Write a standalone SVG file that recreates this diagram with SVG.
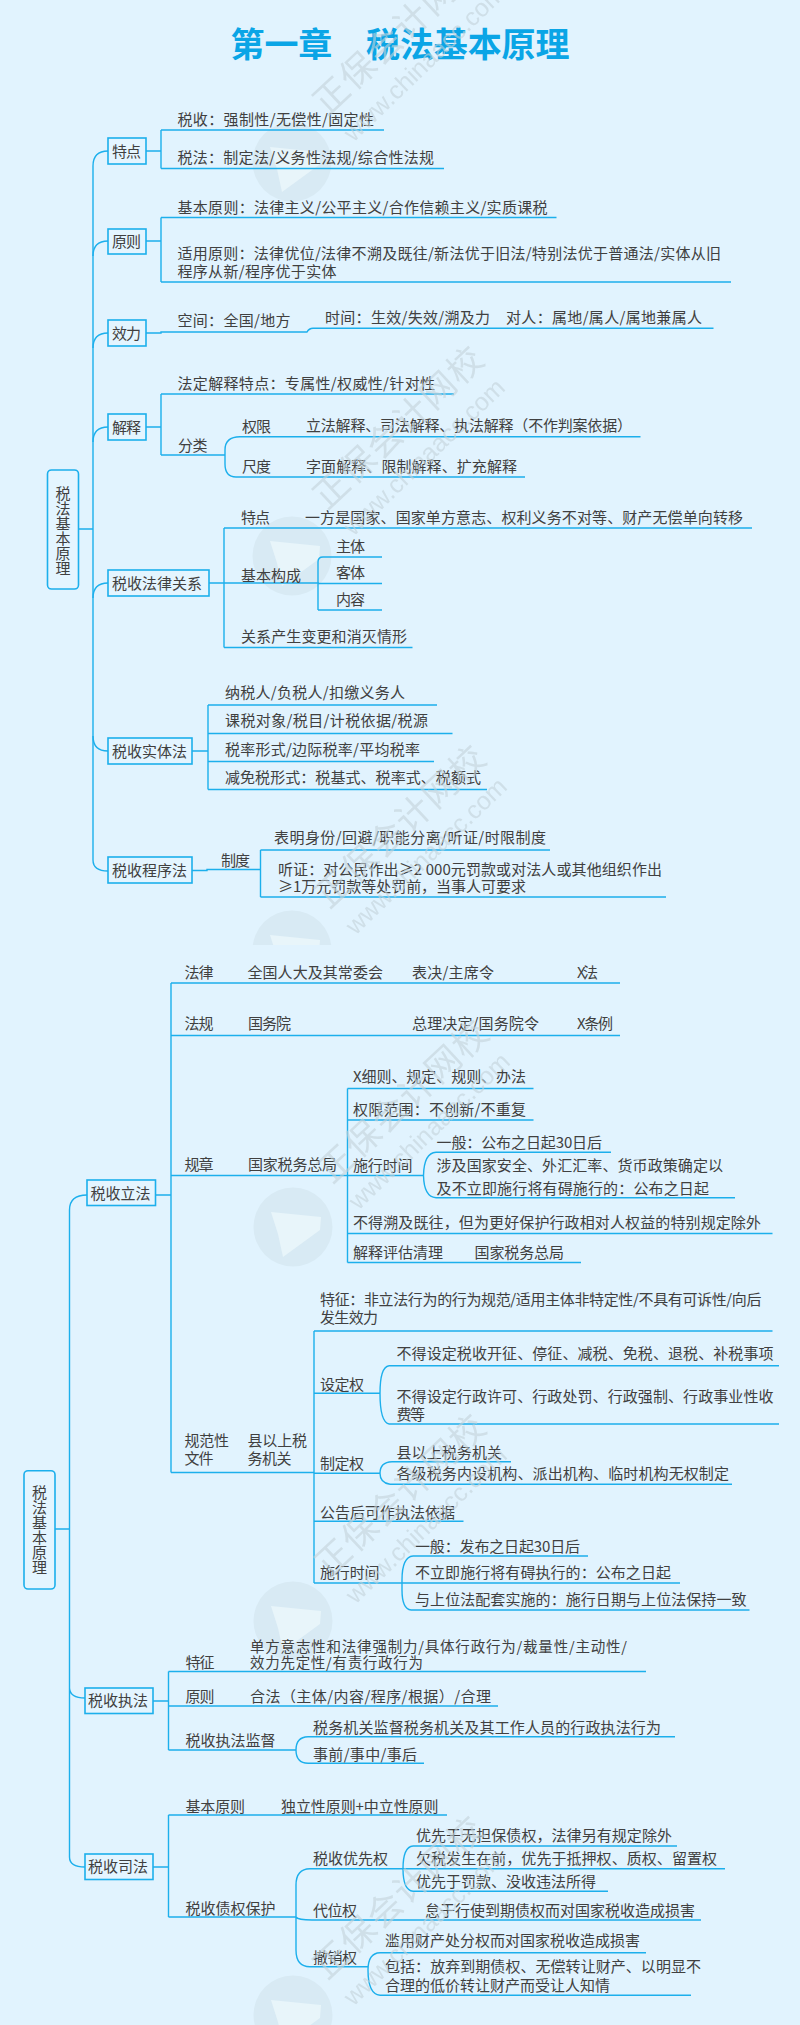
<svg xmlns="http://www.w3.org/2000/svg" xmlns:xlink="http://www.w3.org/1999/xlink" width="800" height="2025" viewBox="0 0 800 2025">
<style>
text{font-family:"Noto Sans CJK SC","Liberation Sans",sans-serif}
.t{font-size:15px;fill:#404040}
.s{font-size:14.5px;fill:#404040}
.title{font-size:34px;font-weight:700;fill:#0aa5e6}
.box{fill:#e4f5ff;stroke:#1cafec;stroke-width:1.6}
.c path{fill:none;stroke:#1cafec;stroke-width:1.4}
.wm{font-size:35px;letter-spacing:1.5px;fill:#c3d2d9;text-anchor:middle}
.wu{font-size:25px;font-family:"Liberation Sans",sans-serif;fill:#c3d2d9;text-anchor:middle}
.v{writing-mode:vertical-rl;letter-spacing:0}
</style>
<defs>
<clipPath id="clipA"><rect x="0" y="0" width="800" height="945"/></clipPath>
<clipPath id="clipB"><rect x="0" y="945" width="800" height="1080"/></clipPath>
<g id="logo"><circle r="39.5" fill="#d8eaf4"/><path d="M-22-15L28-10 27 3-10 30-15 7Z" fill="#e8f5fa"/></g>
<g id="mark"><text class="wm" transform="rotate(-43)">正保会计网校</text><text class="wu" transform="translate(23 27) rotate(-44)">www.chinaacc.com</text></g>
</defs>
<rect width="800" height="2025" fill="#e1f3fe"/>
<g id="logos">
<g clip-path="url(#clipA)"><use xlink:href="#logo" x="292" y="162"/><use xlink:href="#logo" x="292" y="556"/><use xlink:href="#logo" x="292" y="950"/></g>
<g clip-path="url(#clipB)"><use xlink:href="#logo" x="293" y="1227"/><use xlink:href="#logo" x="293" y="1621"/><use xlink:href="#logo" x="293" y="2015"/></g>
</g>
<g id="connectors" class="c">
<path d="M78 529H93M108 151Q93 151 93 166V860Q93 871 108 871"/>
<path d="M108 241Q93 241 93 256M108 333Q93 333 93 348M108 427Q93 427 93 442M108 583Q93 583 93 598M93 736Q93 751 108 751"/>
<path d="M146 151H161M161 130V168.5M161 130H384M161 168.5H444"/>
<path d="M146 241H161M161 217.5V282M161 217.5H556.5M161 282H731"/>
<path d="M146 333H161V332H307Q309 328.5 313 328.3H713.5"/>
<path d="M146 427H161M161 394V455M161 394H454M161 455H224.5M240 436.7H640.5M236 477H525M240 436.7Q225 436.7 225 450V464Q225 477 236 477"/>
<path d="M209 583H319M224 528V647.5M224 528H752M224 647.5H412.5M323 557H382M318 583.5H382M318 610H382M323 557Q318 557 318 562V610"/>
<path d="M192 751H208M208 705V789.5M208 705H437M208 733.5H452.5M208 761.5H434M208 789.5H487"/>
<path d="M192 870.5H207V869.5H260.5M260.5 850V897M260.5 850H550M260.5 897H666"/>
<path d="M55 1529H69.5M87 1195Q69.5 1195 69.5 1210V1857Q69.5 1867 85 1867M69.5 1688Q70 1698 85 1698"/>
<path d="M155.5 1195H171M171 983V1472.5M171 983H620M171 1035.5H620M171 1175.5H423M171 1472.5H314"/>
<path d="M347.5 1088.5V1262.5M347.5 1088.5H533.5M347.5 1120H533.5M347.5 1233.5H772.5M347.5 1262.5H581"/>
<path d="M436 1152.3H611M436 1197.7H735M436 1152.3Q424 1153 423.5 1175.5Q424 1197 436 1197.7"/>
<path d="M314 1331V1583M314 1331H772.5M314 1393.3H380M314 1473.3H380M314 1521.3H463.5M314 1583H401"/>
<path d="M389 1365.7H779M389 1424H779M389 1365.7Q380 1367 380 1393.3Q380 1422 389 1424"/>
<path d="M392 1461.7H511M390 1484.3H732M392 1461.7Q380 1462 380 1473.3Q380 1483 390 1484.3"/>
<path d="M413 1556H588M401 1583H680M411 1610H749.5M413 1556Q402 1557 402 1580V1590Q402 1609 411 1610"/>
<path d="M153 1701H168.5M168.5 1671.5V1750M168.5 1671.5H646M168.5 1706H498M168.5 1750H296M308 1736.7H675M308 1763.3H424M308 1736.7Q296 1737 296 1750Q296 1763 308 1763.3"/>
<path d="M153 1867H168.5M168.5 1815V1917M168.5 1815H447M168.5 1917H296M310 1868.7H725M296 1917Q298 1920 312 1920H701M310 1868.7Q296 1869 296 1885V1950Q296 1966.7 310 1966.7H368"/>
<path d="M413 1846H677M413 1891.3H608M413 1846Q403 1847 403 1868.7Q403 1890 413 1891.3"/>
<path d="M380 1952.7H646M380 1995.3H691M380 1952.7Q368 1953 368 1970Q368 1994 380 1995.3"/>
</g>
<g id="title"><text class="title" x="230.5" y="56.5" textLength="339">第一章　税法基本原理</text></g>
<g id="root1"><rect class="box" x="47.5" y="470" width="31" height="119" rx="4"/><text class="t v" x="63" y="486" textLength="90">税法基本原理</text></g>
<g id="n1"><rect class="box" x="108" y="138" width="38" height="26"/><text class="t" x="112" y="156.5" textLength="29">特点</text></g>
<g id="n2"><rect class="box" x="108" y="229" width="38" height="25"/><text class="t" x="112" y="246.5" textLength="29">原则</text></g>
<g id="n3"><rect class="box" x="108" y="320" width="38" height="26"/><text class="t" x="112" y="338.5" textLength="29">效力</text></g>
<g id="n4"><rect class="box" x="108" y="414" width="38" height="26"/><text class="t" x="112" y="432.5" textLength="29">解释</text></g>
<g id="n5"><rect class="box" x="108" y="570" width="101" height="26"/><text class="t" x="112" y="588.5" textLength="90">税收法律关系</text></g>
<g id="n6"><rect class="box" x="108" y="738" width="84" height="26"/><text class="t" x="112" y="756.5" textLength="75">税收实体法</text></g>
<g id="n7"><rect class="box" x="108" y="857" width="84" height="26"/><text class="t" x="112" y="875.5" textLength="75">税收程序法</text></g>
<g id="l1"><text class="t" x="177.5" y="124.5" textLength="196.5">税收：强制性/无偿性/固定性</text></g>
<g id="l2"><text class="t" x="177.5" y="162.5" textLength="256.5">税法：制定法/义务性法规/综合性法规</text></g>
<g id="l3"><text class="t" x="177.5" y="212.5" textLength="370">基本原则：法律主义/公平主义/合作信赖主义/实质课税</text></g>
<g id="l4"><text class="t" x="177.5" y="258.5" textLength="543.5">适用原则：法律优位/法律不溯及既往/新法优于旧法/特别法优于普通法/实体从旧</text><text class="t" x="177.5" y="276.5" textLength="159">程序从新/程序优于实体</text></g>
<g id="l5"><text class="t" x="177.5" y="326" textLength="113">空间：全国/地方</text></g>
<g id="l6"><text class="t" x="325" y="323" textLength="165">时间：生效/失效/溯及力</text></g>
<g id="l7"><text class="t" x="506" y="323" textLength="196">对人：属地/属人/属地兼属人</text></g>
<g id="l8"><text class="t" x="177.5" y="388.5" textLength="257.5">法定解释特点：专属性/权威性/针对性</text></g>
<g id="l9"><text class="t" x="178" y="450.5" textLength="29.5">分类</text></g>
<g id="l10"><text class="t" x="242" y="431.5" textLength="29">权限</text></g>
<g id="l11"><text class="t" x="306" y="430.5" textLength="326">立法解释、司法解释、执法解释（不作判案依据）</text></g>
<g id="l12"><text class="t" x="242" y="471.5" textLength="29">尺度</text></g>
<g id="l13"><text class="t" x="306" y="471.5" textLength="211">字面解释、限制解释、扩充解释</text></g>
<g id="l14"><text class="t" x="241" y="522.5" textLength="29">特点</text></g>
<g id="l15"><text class="t" x="305" y="522.5" textLength="438">一方是国家、国家单方意志、权利义务不对等、财产无偿单向转移</text></g>
<g id="l16"><text class="t" x="241" y="580.5" textLength="60">基本构成</text></g>
<g id="l17"><text class="t" x="336" y="551.5" textLength="29">主体</text></g>
<g id="l18"><text class="t" x="336" y="578.2" textLength="29">客体</text></g>
<g id="l19"><text class="t" x="336" y="604.5" textLength="29">内容</text></g>
<g id="l20"><text class="t" x="241" y="642.2" textLength="166">关系产生变更和消灭情形</text></g>
<g id="l21"><text class="t" x="225" y="697.5" textLength="180">纳税人/负税人/扣缴义务人</text></g>
<g id="l22"><text class="t" x="225" y="726.2" textLength="203">课税对象/税目/计税依据/税源</text></g>
<g id="l23"><text class="t" x="225" y="754.5" textLength="195">税率形式/边际税率/平均税率</text></g>
<g id="l24"><text class="t" x="225" y="782.5" textLength="256">减免税形式：税基式、税率式、税额式</text></g>
<g id="l25"><text class="t" x="221" y="865.5" textLength="29">制度</text></g>
<g id="l26"><text class="t" x="274" y="842.5" textLength="272">表明身份/回避/职能分离/听证/时限制度</text></g>
<g id="l27"><text class="t" x="278" y="874.5" textLength="384">听证：对公民作出≥2 000元罚款或对法人或其他组织作出</text><text class="t" x="278" y="892.2" textLength="248">≥1万元罚款等处罚前，当事人可要求</text></g>
<g id="root2"><rect class="box" x="24" y="1470.7" width="31" height="118.3" rx="4"/><text class="t v" x="39.5" y="1485.2" textLength="90">税法基本原理</text></g>
<g id="m1"><rect class="box" x="87" y="1180" width="68.5" height="25.5"/><text class="t" x="90.5" y="1198.5" textLength="60">税收立法</text></g>
<g id="m2"><rect class="box" x="85" y="1688" width="68" height="25.5"/><text class="t" x="88" y="1706.2" textLength="60">税收执法</text></g>
<g id="m3"><rect class="box" x="85" y="1854" width="68" height="25.5"/><text class="t" x="88" y="1872.2" textLength="60">税收司法</text></g>
<g id="p1"><text class="t" x="184.5" y="978.2" textLength="29">法律</text></g>
<g id="p2"><text class="t" x="247.5" y="978.2" textLength="135.5">全国人大及其常委会</text></g>
<g id="p3"><text class="t" x="412" y="978.2" textLength="82">表决/主席令</text></g>
<g id="p4"><text class="t" x="577" y="978.2" textLength="21">X法</text></g>
<g id="p5"><text class="t" x="184.5" y="1028.8" textLength="29">法规</text></g>
<g id="p6"><text class="t" x="248" y="1028.8" textLength="43">国务院</text></g>
<g id="p7"><text class="t" x="412" y="1028.8" textLength="127">总理决定/国务院令</text></g>
<g id="p8"><text class="t" x="577" y="1028.8" textLength="36">X条例</text></g>
<g id="p9"><text class="t" x="184.5" y="1169.8" textLength="29">规章</text></g>
<g id="p10"><text class="t" x="248" y="1169.8" textLength="89">国家税务总局</text></g>
<g id="p11"><text class="t" x="353" y="1082.2" textLength="173">X细则、规定、规则、办法</text></g>
<g id="p12"><text class="t" x="353" y="1114.5" textLength="173">权限范围：不创新/不重复</text></g>
<g id="p13"><text class="t" x="353" y="1171.2" textLength="59.5">施行时间</text></g>
<g id="p14"><text class="t" x="436.5" y="1147.5" textLength="165.5">一般：公布之日起30日后</text></g>
<g id="p15"><text class="t" x="436.5" y="1170.8" textLength="286.5">涉及国家安全、外汇汇率、货币政策确定以</text><text class="t" x="436.5" y="1193.5" textLength="272.5">及不立即施行将有碍施行的：公布之日起</text></g>
<g id="p16"><text class="t" x="353" y="1228.2" textLength="408">不得溯及既往，但为更好保护行政相对人权益的特别规定除外</text></g>
<g id="p17"><text class="t" x="353" y="1258.2" textLength="90">解释评估清理</text></g>
<g id="p18"><text class="t" x="474.5" y="1258.2" textLength="89.5">国家税务总局</text></g>
<g id="p19"><text class="t" x="184.5" y="1445.5" textLength="44.5">规范性</text><text class="t" x="184.5" y="1463.5" textLength="29">文件</text></g>
<g id="p20"><text class="t" x="247.5" y="1445.5" textLength="59.5">县以上税</text><text class="t" x="247.5" y="1463.5" textLength="44">务机关</text></g>
<g id="p21"><text class="t" x="320" y="1304.5" textLength="441.5">特征：非立法行为的行为规范/适用主体非特定性/不具有可诉性/向后</text><text class="t" x="320" y="1322.5" textLength="58">发生效力</text></g>
<g id="p22"><text class="t" x="320" y="1389.8" textLength="44">设定权</text></g>
<g id="p23"><text class="t" x="396.5" y="1358.8" textLength="377">不得设定税收开征、停征、减税、免税、退税、补税事项</text></g>
<g id="p24"><text class="t" x="396.5" y="1401.5" textLength="377">不得设定行政许可、行政处罚、行政强制、行政事业性收</text><text class="t" x="396.5" y="1419.5" textLength="28.5">费等</text></g>
<g id="p25"><text class="t" x="320" y="1468.8" textLength="44">制定权</text></g>
<g id="p26"><text class="t" x="396.5" y="1457.5" textLength="105.5">县以上税务机关</text></g>
<g id="p27"><text class="t" x="396.5" y="1479.2" textLength="332.5">各级税务内设机构、派出机构、临时机构无权制定</text></g>
<g id="p28"><text class="t" x="320" y="1518.2" textLength="135">公告后可作执法依据</text></g>
<g id="p29"><text class="t" x="320" y="1578.2" textLength="59.5">施行时间</text></g>
<g id="p30"><text class="t" x="415" y="1551.5" textLength="165">一般：发布之日起30日后</text></g>
<g id="p31"><text class="t" x="415" y="1577.8" textLength="256">不立即施行将有碍执行的：公布之日起</text></g>
<g id="p32"><text class="t" x="415" y="1604.5" textLength="331.5">与上位法配套实施的：施行日期与上位法保持一致</text></g>
<g id="q1"><text class="t" x="185.5" y="1668.2" textLength="29">特征</text></g>
<g id="q2"><text class="s" x="250" y="1652" textLength="377">单方意志性和法律强制力/具体行政行为/裁量性/主动性/</text><text class="s" x="250" y="1667.5" textLength="173">效力先定性/有责行政行为</text></g>
<g id="q3"><text class="t" x="185.5" y="1702.2" textLength="29">原则</text></g>
<g id="q4"><text class="t" x="250" y="1701.5" textLength="241">合法（主体/内容/程序/根据）/合理</text></g>
<g id="q5"><text class="t" x="185.5" y="1746.2" textLength="90">税收执法监督</text></g>
<g id="q6"><text class="t" x="313" y="1732.5" textLength="348">税务机关监督税务机关及其工作人员的行政执法行为</text></g>
<g id="q7"><text class="t" x="313" y="1759.8" textLength="104">事前/事中/事后</text></g>
<g id="q8"><text class="t" x="185.5" y="1811.5" textLength="59.5">基本原则</text></g>
<g id="q9"><text class="t" x="281" y="1811.5" textLength="157.5">独立性原则+中立性原则</text></g>
<g id="q10"><text class="t" x="185.5" y="1913.8" textLength="90">税收债权保护</text></g>
<g id="q11"><text class="t" x="313" y="1863.5" textLength="75">税收优先权</text></g>
<g id="q12"><text class="t" x="416" y="1841.2" textLength="256">优先于无担保债权，法律另有规定除外</text></g>
<g id="q13"><text class="t" x="416" y="1863.8" textLength="301">欠税发生在前，优先于抵押权、质权、留置权</text></g>
<g id="q14"><text class="t" x="416" y="1886.5" textLength="180">优先于罚款、没收违法所得</text></g>
<g id="q15"><text class="t" x="313" y="1916.2" textLength="44">代位权</text></g>
<g id="q16"><text class="t" x="425" y="1916.2" textLength="270">怠于行使到期债权而对国家税收造成损害</text></g>
<g id="q17"><text class="t" x="313" y="1963.2" textLength="44">撤销权</text></g>
<g id="q18"><text class="t" x="385" y="1946.2" textLength="255">滥用财产处分权而对国家税收造成损害</text></g>
<g id="q19"><text class="t" x="385" y="1972.2" textLength="316">包括：放弃到期债权、无偿转让财产、以明显不</text><text class="t" x="385" y="1990.5" textLength="225">合理的低价转让财产而受让人知情</text></g>
<g id="watermarks" opacity=".6">
<g clip-path="url(#clipA)"><use xlink:href="#mark" x="407" y="42"/><use xlink:href="#mark" x="407" y="436"/><use xlink:href="#mark" x="409" y="835"/></g>
<g clip-path="url(#clipB)"><use xlink:href="#mark" x="412" y="1110"/><use xlink:href="#mark" x="409" y="1504"/><use xlink:href="#mark" x="407" y="1906"/></g>
</g>
</svg>
